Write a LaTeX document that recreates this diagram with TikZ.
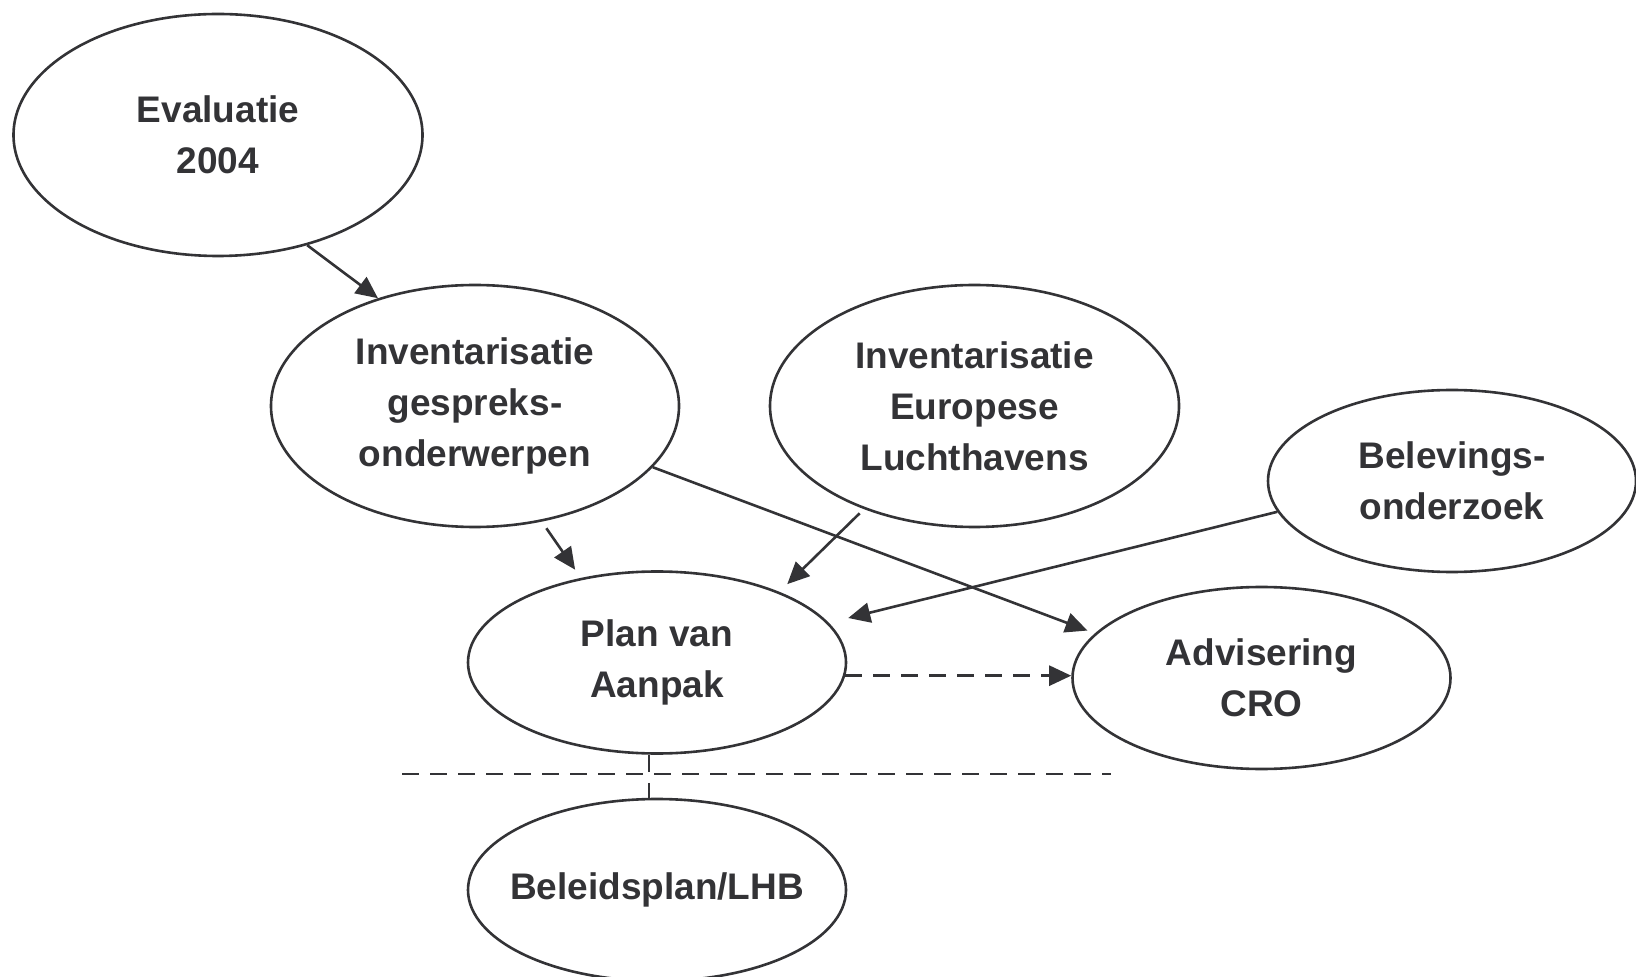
\documentclass[tikz,border=0pt]{standalone}
\usepackage{fontspec}
\setmainfont{Liberation Sans}
\usetikzlibrary{shapes.geometric,arrows.meta}
\definecolor{ink}{HTML}{333336}
\begin{document}
\begin{tikzpicture}[x=0.5pt,y=-0.5pt,
   blob/.style={ellipse,draw=ink,line width=1.3pt,inner xsep=-10pt,inner ysep=0pt,
   align=center,text=ink,font=\fontsize{18.5}{25.6}\selectfont\bfseries},
   arr/.style={draw=ink,line width=1.3pt,-{Triangle[length=11pt,width=10pt]}},
   dsh/.style={draw=ink,line width=1.3pt,dash pattern=on 8.5pt off 5.5pt}]
 \useasboundingbox (0,0) rectangle (1636,977);

 \node[blob,minimum width=204.5pt,minimum height=121pt] (eval) at (218,135) {Evaluatie\\2004};
 \node[blob,minimum width=204pt,minimum height=121pt] (inv) at (475,406) {Inventarisatie\\gespreks-\\onderwerpen};
 \node[blob,minimum width=204.5pt,minimum height=121pt] (eur) at (974.5,406) {Inventarisatie\\Europese\\Luchthavens};
 \node[blob,minimum width=184pt,minimum height=91pt] (bel) at (1452,481) {Belevings-\\onderzoek};
 \node[blob,minimum width=189pt,minimum height=91pt] (plan) at (657,662.5) {Plan van\\Aanpak};
 \node[blob,minimum width=189pt,minimum height=91pt] (adv) at (1261.5,678) {Advisering\\CRO};
 \node[blob,minimum width=189pt,minimum height=91pt] (lhb) at (657,890) {Beleidsplan/LHB};

 \draw[arr] (eval.-51.5) -- (inv.132.4);
 \draw[arr,shorten <=4pt,shorten >=5pt] (inv.-60.9) -- (plan.132.9);
 \draw[arr,shorten >=4pt] (inv.-19.3) -- (adv.165.6);
 \draw[arr,shorten <=3pt,shorten >=5.5pt] (eur.-137.3) -- (plan.30.6);
 \draw[arr,shorten >=10pt] (bel.-170.7) -- (plan.13);
 \draw[arr,dash pattern=on 8.5pt off 5.5pt] (plan.-4.7) -- (plan.-4.7 -| adv.west);

 % scheiding
 \draw[dsh] ([xshift=-4pt]plan.south) -- ([xshift=-4pt]lhb.north);
 \draw[dsh] (402,774) -- (1111,774);
\end{tikzpicture}
\end{document}
